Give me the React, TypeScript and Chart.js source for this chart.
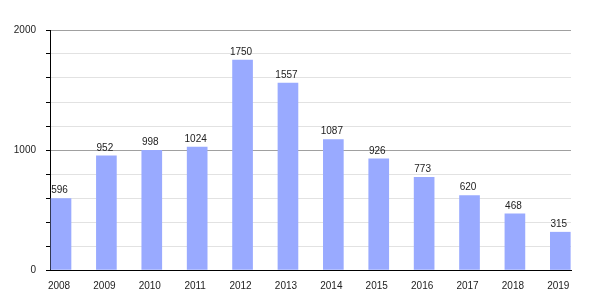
import React, { useEffect, useRef } from "react";
import { Chart, registerables } from "chart.js";

Chart.register(...registerables);

const years = [2008, 2009, 2010, 2011, 2012, 2013, 2014, 2015, 2016, 2017, 2018, 2019];
const values = [596, 952, 998, 1024, 1750, 1557, 1087, 926, 773, 620, 468, 315];
const yLabelTicks = [0, 1000, 2000];

const FONT = "'Liberation Sans', Arial, sans-serif";

const valueLabels = {
  id: "valueLabels",
  afterDatasetsDraw(chart: any) {
    const ctx = chart.ctx;
    const meta = chart.getDatasetMeta(0);
    ctx.save();
    ctx.font = `10px ${FONT}`;
    ctx.fillStyle = "#222";
    ctx.textAlign = "center";
    ctx.textBaseline = "middle";
    meta.data.forEach((el: any, i: number) => {
      ctx.fillText(String(values[i]), el.x - 1.5, el.y - 8);
    });
    ctx.restore();
  },
};

export default function App() {
  const ref = useRef<HTMLCanvasElement>(null);
  useEffect(() => {
    document.body.style.margin = "0";
    const chart = new Chart(ref.current!, {
      type: "bar",
      data: {
        datasets: [
          {
            data: years.map((y, i) => ({ x: y, y: values[i] })),
            backgroundColor: "#99aaff",
            barThickness: 20,
          },
        ],
      },
      plugins: [valueLabels],
      options: {
        responsive: false,
        animation: false,
        layout: { padding: { top: 30, right: 29, left: 0, bottom: 0 } },
        plugins: { legend: { display: false }, tooltip: { enabled: false } },
        scales: {
          x: {
            type: "linear",
            offset: false,
            min: 2007.7577,
            max: 2019.2357,
            grid: { display: false, offset: false },
            border: { display: true, color: "#000", width: 1 },
            afterBuildTicks: (scale: any) => {
              scale.ticks = years.map((y) => ({ value: y }));
            },
            afterFit: (scale: any) => {
              scale.height = 30;
            },
            ticks: {
              autoSkip: false,
              maxRotation: 0,
              padding: 2,
              labelOffset: -2,
              color: "#222",
              font: { family: FONT, size: 10 },
              callback: (v: any) => String(v),
            },
          },
          y: {
            min: 0,
            max: 2000,
            afterFit: (scale: any) => {
              scale.width = 50;
            },
            border: { display: true, color: "#000", width: 1 },
            grid: {
              color: (c: any) =>
                c.tick && (c.tick.value === 1000 || c.tick.value === 2000) ? "#a0a0a0" : "#e2e2e2",
              tickColor: "#000",
              tickLength: 4,
            },
            ticks: {
              stepSize: 200,
              padding: 10,
              color: "#222",
              font: { family: FONT, size: 10 },
              callback: (v: any) => (yLabelTicks.includes(Number(v)) ? String(v) : ""),
            },
          },
        },
      },
    });
    return () => chart.destroy();
  }, []);
  return (
    <div style={{ width: 600, height: 300 }}>
      <canvas ref={ref} width={600} height={300} />
    </div>
  );
}
